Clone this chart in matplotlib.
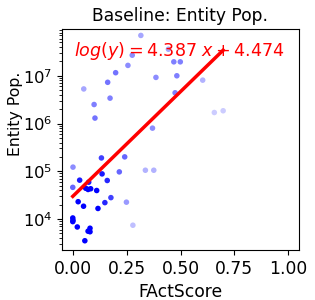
import numpy as np
import matplotlib
matplotlib.use("Agg")
import matplotlib.pyplot as plt

# FActScore values
fact_score = [0.316, 0.276, 0.256, 0.199, 0.162, 0.173, 0.051, 0.099, 0.103, 0.444,
              0.469, 0.499, 0.386, 0.483, 0.475, 0.603, 0.657, 0.698, 0.370, 0.133,
              0.241, 0.001, 0.216, 0.337, 0.376, 0.136, 0.032, 0.160, 0.074, 0.000,
              0.060, 0.071, 0.083, 0.111, 0.177, 0.025, 0.149, 0.249, 0.050, 0.117,
              0.000, 0.001, 0.000, 0.021, 0.279, 0.080, 0.071, 0.080, 0.056]
# Entity popularity
entity_pop = [7.0e7, 2.7e7, 1.65e7, 1.16e7, 7.3e6, 3.4e6, 5.3e6, 2.5e6, 1.3e6, 3.6e7,
              1.96e7, 1.96e7, 9.25e6, 1.0e7, 4.4e6, 8.1e6, 1.7e6, 1.85e6, 8.0e5, 1.9e5,
              2.0e5, 1.22e5, 9.7e4, 1.05e5, 1.05e5, 8.8e4, 6.5e4, 6.4e4, 5.9e4, 4.6e4,
              4.4e4, 4.15e4, 4.3e4, 3.95e4, 2.8e4, 2.3e4, 2.2e4, 2.25e4, 1.85e4, 1.66e4,
              1.05e4, 9.4e3, 8.8e3, 6.8e3, 7.4e3, 6.4e3, 5.55e3, 5.4e3, 3.5e3]
# per-point opacity
point_alpha = [0.35, 0.45, 0.45, 0.55, 0.55, 0.5, 0.35, 0.5, 0.55, 0.35,
               0.5, 0.5, 0.45, 0.5, 0.5, 0.3, 0.2, 0.2, 0.45, 0.75,
               0.6, 0.45, 0.6, 0.3, 0.3, 0.9, 0.9, 0.85, 0.9, 0.6,
               1.0, 1.0, 1.0, 1.0, 0.75, 1.0, 0.85, 0.4, 1.0, 1.0,
               1.0, 1.0, 1.0, 1.0, 0.25, 1.0, 1.0, 1.0, 1.0]

slope = 4.387
intercept = 4.474

fs = 12.3
fig = plt.figure(figsize=(3.15, 3.0), dpi=100)
ax = fig.add_axes([62/315, 1-250/300, 237/315, 221/300])

colors = [(0, 0, 1, a) for a in point_alpha]
ax.scatter(fact_score, entity_pop, c=colors, s=16, edgecolors='none')

xs = np.array([min(fact_score), max(fact_score)])
ax.plot(xs, 10 ** (slope * xs + intercept), color='red', lw=2.5)

ax.set_yscale('log')
ax.set_xlim(-0.05, 1.05)
ax.set_ylim(10 ** 3.35, 10 ** 7.98)
ax.set_xticks([0, 0.25, 0.5, 0.75, 1.0])
ax.set_xticklabels(['0.00', '0.25', '0.50', '0.75', '1.00'])
ax.tick_params(axis='x', labelsize=fs)
ax.tick_params(axis='y', labelsize=11.8)
ax.set_xlabel('FActScore', fontsize=fs)
ax.set_ylabel('Entity Pop.', fontsize=11.3)
ax.yaxis.set_label_coords(-0.165, 0.615)
ax.set_title('Baseline: Entity Pop.', fontsize=fs)

ax.text(0.05, 0.95, r'$log(y) = %.3f\ x + %.3f$' % (slope, intercept),
        transform=ax.transAxes, color='red', fontsize=12.6, va='top', ha='left')

fig.savefig('out.png', dpi=100)
